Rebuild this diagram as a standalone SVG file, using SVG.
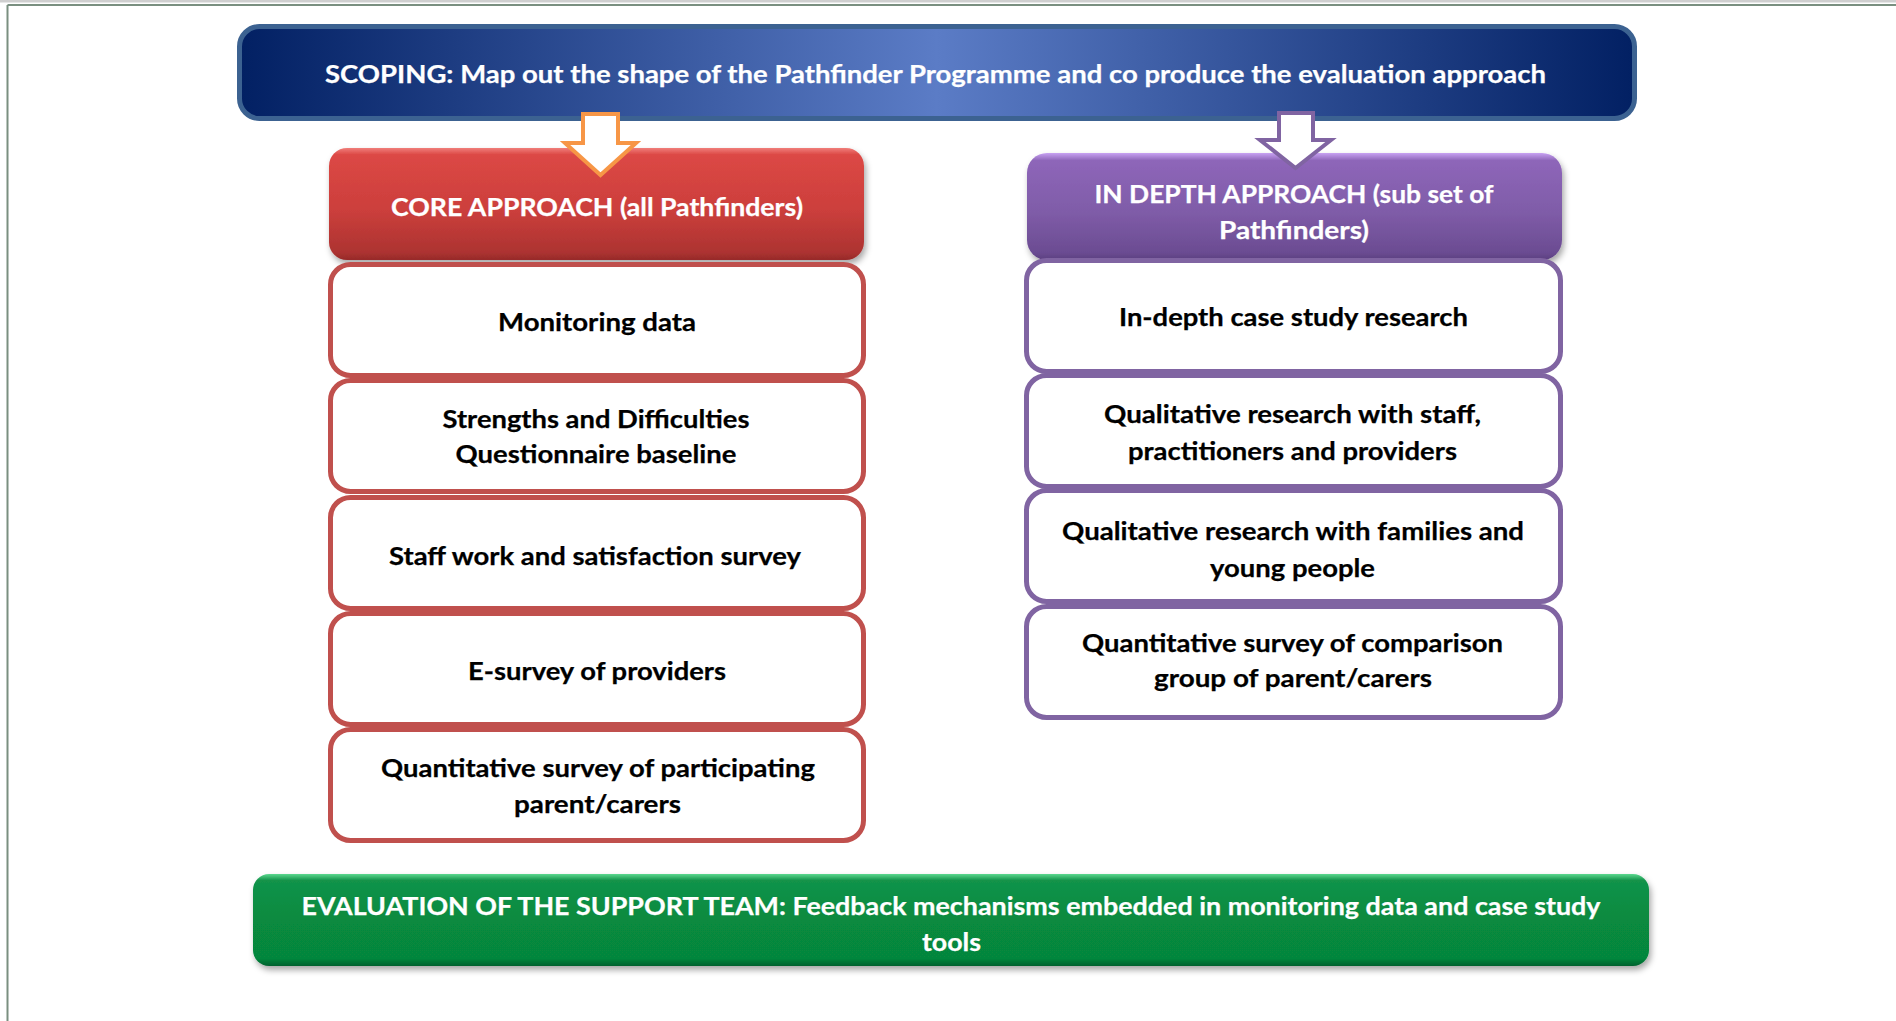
<svg xmlns="http://www.w3.org/2000/svg" width="1896" height="1021" viewBox="0 0 1896 1021">
  <defs>
    <linearGradient id="gScope" x1="0" y1="0" x2="1" y2="0">
      <stop offset="0" stop-color="#022063"/>
      <stop offset="0.5" stop-color="#5b7cc6"/>
      <stop offset="1" stop-color="#022063"/>
    </linearGradient>
    <linearGradient id="gCore" x1="0" y1="0" x2="0" y2="1">
      <stop offset="0" stop-color="#f07e7a"/>
      <stop offset="0.06" stop-color="#dc4845"/>
      <stop offset="0.55" stop-color="#cc3f3c"/>
      <stop offset="0.93" stop-color="#ad3331"/>
      <stop offset="1" stop-color="#962a29"/>
    </linearGradient>
    <linearGradient id="gDepth" x1="0" y1="0" x2="0" y2="1">
      <stop offset="0" stop-color="#c8a2f2"/>
      <stop offset="0.07" stop-color="#8e66b9"/>
      <stop offset="0.55" stop-color="#7f5ca8"/>
      <stop offset="0.93" stop-color="#6b4c92"/>
      <stop offset="1" stop-color="#5b3f80"/>
    </linearGradient>
    <linearGradient id="gEval" x1="0" y1="0" x2="0" y2="1">
      <stop offset="0" stop-color="#5cd88f"/>
      <stop offset="0.07" stop-color="#12934a"/>
      <stop offset="0.5" stop-color="#078a3f"/>
      <stop offset="0.92" stop-color="#06863c"/>
      <stop offset="1" stop-color="#05602d"/>
    </linearGradient>
    <filter id="shadow" x="-5%" y="-20%" width="110%" height="150%">
      <feDropShadow dx="2" dy="4" stdDeviation="3" flood-color="#000" flood-opacity="0.35"/>
    </filter>
  </defs>
  <style>
    text { font-family: "Lato", "Liberation Sans", sans-serif; font-weight: 700; font-size: 25px; text-anchor: middle; stroke-width: 0.25px; }
    .hd { fill: #ffffff; stroke: #ffffff; }
    .bd { fill: #000000; stroke: #000000; }
    .coreItem { fill: #ffffff; stroke: #c0504d; stroke-width: 5; }
    .depthItem { fill: #ffffff; stroke: #8064a2; stroke-width: 5; }
    .frame { fill: none; stroke: #7a8f80; stroke-width: 2; }
  </style>

  <!-- page frame -->
  <rect x="0" y="0" width="1896" height="2.5" fill="#cfcfcf"/>
  <line class="frame" x1="7.5" y1="5" x2="1896" y2="5"/>
  <line class="frame" x1="7.5" y1="5" x2="7.5" y2="1021"/>

  <g id="scoping">
    <rect x="239.5" y="26.5" width="1395" height="92" rx="20" fill="url(#gScope)" stroke="#3c6291" stroke-width="5"/>
    <text class="hd" x="935.5" y="83" textLength="1221" lengthAdjust="spacingAndGlyphs">SCOPING: Map out the shape of the Pathfinder Programme and co produce the evaluation approach</text>
  </g>

  <g id="core-approach">
    <rect x="329" y="148" width="535" height="112" rx="18" fill="url(#gCore)" filter="url(#shadow)"/>
    <text class="hd" x="597" y="216" textLength="412" lengthAdjust="spacingAndGlyphs">CORE APPROACH (all Pathfinders)</text>
  </g>

  <g id="in-depth-approach">
    <rect x="1027" y="153" width="535" height="107" rx="20" fill="url(#gDepth)" filter="url(#shadow)"/>
    <text class="hd" x="1294" y="203" textLength="399" lengthAdjust="spacingAndGlyphs">IN DEPTH APPROACH (sub set of</text>
    <text class="hd" x="1294" y="239" textLength="150" lengthAdjust="spacingAndGlyphs">Pathfinders)</text>
  </g>

  <g id="monitoring-data">
    <rect class="coreItem" x="330.5" y="264.5" width="533" height="111" rx="20"/>
    <text class="bd" x="597" y="331" textLength="198" lengthAdjust="spacingAndGlyphs">Monitoring data</text>
  </g>
  <g id="sdq-baseline">
    <rect class="coreItem" x="330.5" y="380.5" width="533" height="111" rx="20"/>
    <text class="bd" x="596" y="428" textLength="307" lengthAdjust="spacingAndGlyphs">Strengths and Difficulties</text>
    <text class="bd" x="596" y="463" textLength="281" lengthAdjust="spacingAndGlyphs">Questionnaire baseline</text>
  </g>
  <g id="staff-survey">
    <rect class="coreItem" x="330.5" y="497.5" width="533" height="111" rx="20"/>
    <text class="bd" x="595" y="565" textLength="412" lengthAdjust="spacingAndGlyphs">Staff work and satisfaction survey</text>
  </g>
  <g id="e-survey">
    <rect class="coreItem" x="330.5" y="613.5" width="533" height="111" rx="20"/>
    <text class="bd" x="597" y="680" textLength="258" lengthAdjust="spacingAndGlyphs">E-survey of providers</text>
  </g>
  <g id="participant-survey">
    <rect class="coreItem" x="330.5" y="729.5" width="533" height="111" rx="20"/>
    <text class="bd" x="598" y="777" textLength="434" lengthAdjust="spacingAndGlyphs">Quantitative survey of participating</text>
    <text class="bd" x="597.5" y="813" textLength="167" lengthAdjust="spacingAndGlyphs">parent/carers</text>
  </g>

  <g id="case-study">
    <rect class="depthItem" x="1026.5" y="260.5" width="534" height="111" rx="20"/>
    <text class="bd" x="1293.5" y="326" textLength="349" lengthAdjust="spacingAndGlyphs">In-depth case study research</text>
  </g>
  <g id="qual-staff">
    <rect class="depthItem" x="1026.5" y="375.5" width="534" height="111" rx="20"/>
    <text class="bd" x="1292.5" y="423" textLength="377" lengthAdjust="spacingAndGlyphs">Qualitative research with staff,</text>
    <text class="bd" x="1292.5" y="460" textLength="329" lengthAdjust="spacingAndGlyphs">practitioners and providers</text>
  </g>
  <g id="qual-families">
    <rect class="depthItem" x="1026.5" y="490.5" width="534" height="111" rx="20"/>
    <text class="bd" x="1293" y="540" textLength="462" lengthAdjust="spacingAndGlyphs">Qualitative research with families and</text>
    <text class="bd" x="1292.5" y="577" textLength="165" lengthAdjust="spacingAndGlyphs">young people</text>
  </g>
  <g id="comparison-survey">
    <rect class="depthItem" x="1026.5" y="606.5" width="534" height="111" rx="20"/>
    <text class="bd" x="1292.5" y="652" textLength="421" lengthAdjust="spacingAndGlyphs">Quantitative survey of comparison</text>
    <text class="bd" x="1293" y="687" textLength="278" lengthAdjust="spacingAndGlyphs">group of parent/carers</text>
  </g>

  <g id="support-team-evaluation">
    <rect x="253" y="874" width="1396" height="92" rx="16" fill="url(#gEval)" filter="url(#shadow)"/>
    <text class="hd" x="951" y="915" textLength="1299" lengthAdjust="spacingAndGlyphs">EVALUATION OF THE SUPPORT TEAM: Feedback mechanisms embedded in monitoring data and case study</text>
    <text class="hd" x="951.5" y="951" textLength="59" lengthAdjust="spacingAndGlyphs">tools</text>
  </g>

  <g id="connectors">
    <!-- scoping feeds the core approach -->
    <path d="M583,114 H618 V143 H636 L600.5,175 L565,143 H583 Z" fill="#ffffff" stroke="#f79646" stroke-width="4" stroke-linejoin="miter"/>
    <!-- scoping feeds the in-depth approach -->
    <path d="M1279,113 H1313 V140 H1331 L1295.5,168 L1260,140 H1279 Z" fill="#ffffff" stroke="#8064a2" stroke-width="4" stroke-linejoin="miter"/>
  </g>
</svg>
